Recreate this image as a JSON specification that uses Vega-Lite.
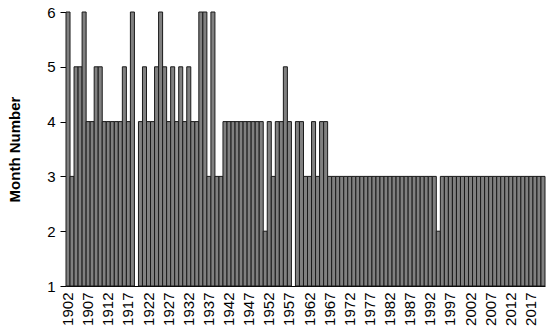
{
  "$schema": "https://vega.github.io/schema/vega-lite/v6.json",
  "width": 479,
  "height": 274,
  "autosize": "none",
  "padding": {"left": 66, "top": 12, "right": 5, "bottom": 47},
  "background": "white",
  "data": {
    "values": [
      {"year": 1902, "month": 6}, {"year": 1903, "month": 3}, {"year": 1904, "month": 5}, {"year": 1905, "month": 5},
      {"year": 1906, "month": 6}, {"year": 1907, "month": 4}, {"year": 1908, "month": 4}, {"year": 1909, "month": 5},
      {"year": 1910, "month": 5}, {"year": 1911, "month": 4}, {"year": 1912, "month": 4}, {"year": 1913, "month": 4},
      {"year": 1914, "month": 4}, {"year": 1915, "month": 4}, {"year": 1916, "month": 5}, {"year": 1917, "month": 4},
      {"year": 1918, "month": 6}, {"year": 1920, "month": 4}, {"year": 1921, "month": 5},
      {"year": 1922, "month": 4}, {"year": 1923, "month": 4}, {"year": 1924, "month": 5}, {"year": 1925, "month": 6},
      {"year": 1926, "month": 5}, {"year": 1927, "month": 4}, {"year": 1928, "month": 5}, {"year": 1929, "month": 4},
      {"year": 1930, "month": 5}, {"year": 1931, "month": 4}, {"year": 1932, "month": 5}, {"year": 1933, "month": 4},
      {"year": 1934, "month": 4}, {"year": 1935, "month": 6}, {"year": 1936, "month": 6}, {"year": 1937, "month": 3},
      {"year": 1938, "month": 6}, {"year": 1939, "month": 3}, {"year": 1940, "month": 3}, {"year": 1941, "month": 4},
      {"year": 1942, "month": 4}, {"year": 1943, "month": 4}, {"year": 1944, "month": 4}, {"year": 1945, "month": 4},
      {"year": 1946, "month": 4}, {"year": 1947, "month": 4}, {"year": 1948, "month": 4}, {"year": 1949, "month": 4},
      {"year": 1950, "month": 4}, {"year": 1951, "month": 2}, {"year": 1952, "month": 4}, {"year": 1953, "month": 3},
      {"year": 1954, "month": 4}, {"year": 1955, "month": 4}, {"year": 1956, "month": 5}, {"year": 1957, "month": 4},
      {"year": 1959, "month": 4}, {"year": 1960, "month": 4}, {"year": 1961, "month": 3},
      {"year": 1962, "month": 3}, {"year": 1963, "month": 4}, {"year": 1964, "month": 3}, {"year": 1965, "month": 4},
      {"year": 1966, "month": 4}, {"year": 1967, "month": 3}, {"year": 1968, "month": 3}, {"year": 1969, "month": 3},
      {"year": 1970, "month": 3}, {"year": 1971, "month": 3}, {"year": 1972, "month": 3}, {"year": 1973, "month": 3},
      {"year": 1974, "month": 3}, {"year": 1975, "month": 3}, {"year": 1976, "month": 3}, {"year": 1977, "month": 3},
      {"year": 1978, "month": 3}, {"year": 1979, "month": 3}, {"year": 1980, "month": 3}, {"year": 1981, "month": 3},
      {"year": 1982, "month": 3}, {"year": 1983, "month": 3}, {"year": 1984, "month": 3}, {"year": 1985, "month": 3},
      {"year": 1986, "month": 3}, {"year": 1987, "month": 3}, {"year": 1988, "month": 3}, {"year": 1989, "month": 3},
      {"year": 1990, "month": 3}, {"year": 1991, "month": 3}, {"year": 1992, "month": 3}, {"year": 1993, "month": 3},
      {"year": 1994, "month": 2}, {"year": 1995, "month": 3}, {"year": 1996, "month": 3}, {"year": 1997, "month": 3},
      {"year": 1998, "month": 3}, {"year": 1999, "month": 3}, {"year": 2000, "month": 3}, {"year": 2001, "month": 3},
      {"year": 2002, "month": 3}, {"year": 2003, "month": 3}, {"year": 2004, "month": 3}, {"year": 2005, "month": 3},
      {"year": 2006, "month": 3}, {"year": 2007, "month": 3}, {"year": 2008, "month": 3}, {"year": 2009, "month": 3},
      {"year": 2010, "month": 3}, {"year": 2011, "month": 3}, {"year": 2012, "month": 3}, {"year": 2013, "month": 3},
      {"year": 2014, "month": 3}, {"year": 2015, "month": 3}, {"year": 2016, "month": 3}, {"year": 2017, "month": 3},
      {"year": 2018, "month": 3}, {"year": 2019, "month": 3}, {"year": 2020, "month": 3}
    ]
  },
  "mark": {"type": "bar", "fill": "#808080", "stroke": "#1a1a1a", "strokeWidth": 1},
  "encoding": {
    "x": {
      "field": "year",
      "type": "ordinal",
      "scale": {
        "domain": [1902,1903,1904,1905,1906,1907,1908,1909,1910,1911,1912,1913,1914,1915,1916,1917,1918,1919,1920,
                   1921,1922,1923,1924,1925,1926,1927,1928,1929,1930,1931,1932,1933,1934,1935,1936,1937,1938,1939,1940,
                   1941,1942,1943,1944,1945,1946,1947,1948,1949,1950,1951,1952,1953,1954,1955,1956,1957,1958,1959,1960,
                   1961,1962,1963,1964,1965,1966,1967,1968,1969,1970,1971,1972,1973,1974,1975,1976,1977,1978,1979,1980,
                   1981,1982,1983,1984,1985,1986,1987,1988,1989,1990,1991,1992,1993,1994,1995,1996,1997,1998,1999,2000,
                   2001,2002,2003,2004,2005,2006,2007,2008,2009,2010,2011,2012,2013,2014,2015,2016,2017,2018,2019,2020],
        "paddingInner": 0,
        "paddingOuter": 0
      },
      "axis": {
        "title": null,
        "values": [1902,1907,1912,1917,1922,1927,1932,1937,1942,1947,1952,1957,1962,1967,1972,1977,1982,1987,1992,1997,2002,2007,2012,2017],
        "labelAngle": -90,
        "ticks": false,
        "labelPadding": 6,
        "labelFont": "Liberation Sans",
        "labelFontSize": 15,
        "labelColor": "#000000",
        "labelOverlap": false,
        "domainColor": "#000000",
        "domainWidth": 1
      }
    },
    "y": {
      "field": "month",
      "type": "quantitative",
      "scale": {"domain": [1, 6], "zero": false, "nice": false},
      "axis": {
        "title": "Month Number",
        "titleFont": "Liberation Sans",
        "titleFontSize": 15,
        "titleFontWeight": "bold",
        "titleColor": "#000000",
        "titlePadding": 24,
        "values": [1, 2, 3, 4, 5, 6],
        "labelFont": "Liberation Sans",
        "labelFontSize": 15,
        "labelColor": "#000000",
        "labelPadding": 5,
        "tickColor": "#000000",
        "tickSize": 6,
        "domainColor": "#000000",
        "grid": false
      }
    },
    "y2": {"datum": 1}
  },
  "config": {"view": {"stroke": null}}
}
